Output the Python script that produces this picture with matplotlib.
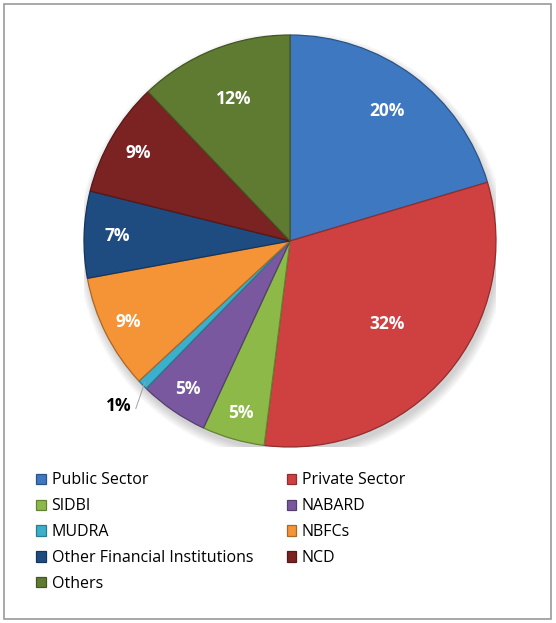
import numpy as np
import matplotlib.pyplot as plt
import matplotlib.colors as mcolors
from matplotlib.patches import Rectangle, Circle

plt.rcParams['font.family'] = ['Open Sans', 'DejaVu Sans']

# data (share of total in %)
sources = ['Public Sector', 'Private Sector', 'SIDBI', 'NABARD', 'MUDRA',
           'NBFCs', 'Other Financial Institutions', 'NCD', 'Others']
shares = [20.4, 31.6, 4.9, 5.4, 0.8, 9.0, 6.8, 9.0, 12.1]
colors = ['#3d78c0', '#cf4040', '#8db948', '#7a58a0', '#3bb0cc',
          '#f59337', '#1f4c80', '#7b2222', '#5f7b31']
# where each label sits, as fraction of the radius
label_dist = [0.79, 0.62, 0.87, 0.87, 1.15, 0.88, 0.84, 0.85, 0.74]

fig = plt.figure(figsize=(5.56, 6.23), dpi=100)
ax = fig.add_axes([84/556, 1 - 447/623, 412/556, 412/623])

# soft shadow under the pie
for k in range(6):
    ax.add_patch(Circle((0.01, -0.025), 1.0 + 0.008*k, color='#000000',
                        alpha=0.03, lw=0, zorder=0))

wedges, _ = ax.pie(shares, colors=colors, startangle=90, counterclock=False,
                   radius=1.0, wedgeprops=dict(linewidth=0.9))
for w, c in zip(wedges, colors):
    w.set_edgecolor(np.array(mcolors.to_rgb(c)) * 0.7)

for w, v, d in zip(wedges, shares, label_dist):
    ang = np.deg2rad((w.theta1 + w.theta2) / 2)
    x, y = d*np.cos(ang), d*np.sin(ang)
    txt = '%d%%' % round(v)
    if d > 1:
        ax.text(x - 0.01, y, txt, ha='center', va='center', fontsize=12.5,
                fontweight='bold', color='black')
        ax.plot([x + 0.075, 0.985*np.cos(ang)], [y - 0.01, 0.985*np.sin(ang)],
                color='#a0a0a0', lw=0.7)
    else:
        ax.text(x, y, txt, ha='center', va='center', fontsize=12.5,
                fontweight='bold', color='white')

ax.set_xlim(-1, 1)
ax.set_ylim(-1, 1)
ax.set_aspect('equal')
ax.axis('off')

# legend, row-wise order in two columns
order = [0, 2, 4, 6, 8, 1, 3, 5, 7]
leg = fig.legend([wedges[i] for i in order], [sources[i] for i in order],
                 ncol=2, loc='upper left', bbox_to_anchor=(30/556, 1 - 466/623),
                 frameon=False, fontsize=11.5, handlelength=0.6, handleheight=0.6,
                 handletextpad=0.35, labelspacing=0.62, columnspacing=2.1,
                 borderaxespad=0)

fig.patches.append(Rectangle((4/556, 4/623), 547/556, 615/623, transform=fig.transFigure,
                             fill=False, edgecolor='#9a9a9a', lw=1.2))

fig.savefig('out.png', dpi=100)
